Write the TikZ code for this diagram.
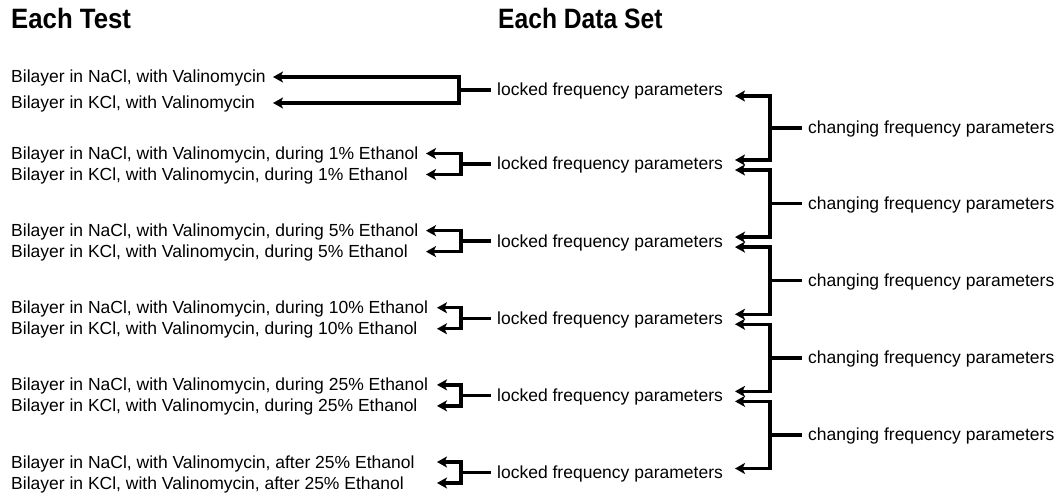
\documentclass[tikz,border=0pt]{standalone}
\usepackage{fontspec}
\setmainfont{Liberation Sans}
\usetikzlibrary{arrows.meta}
\begin{document}
\begin{tikzpicture}[x=1pt,y=-1pt,
  txt/.style={anchor=base west, inner sep=0pt, font=\fontsize{17.5}{21}\selectfont},
  ttl/.style={anchor=base west, inner sep=0pt, font=\fontsize{28}{30}\selectfont\bfseries},
  conn/.style={line width=3.4pt, line join=miter},
  arr/.style={conn, -{Stealth[length=10pt,width=11pt,inset=2.5pt]}},
]
\useasboundingbox (0,0) rectangle (1063,497);

% titles
\node[ttl] (tTest) at (11,29) {\scalebox{0.92}[1]{Each Test}};
\node[ttl] (tData) at (498,29) {\scalebox{0.88}[1]{Each Data Set}};

% pair 1
\node[txt] (a1) at (11,83) {Bilayer in NaCl, with Valinomycin};
\node[txt] (b1) at (11,109) {Bilayer in KCl, with Valinomycin};
\node[txt] (lk1) at (497,96) {locked frequency parameters};
\coordinate (ta1) at (273,77);
\coordinate (tb1) at (273,103);
\coordinate (br1) at (459,90);
\draw[arr] (br1) |- (ta1);
\draw[arr] (br1) |- (tb1);
\draw[conn] (br1) -- ([xshift=-6pt]lk1.west |- br1);

% pairs 2..6
\foreach \k/\suf/\tip in {2/{, during 1\% Ethanol}/426, 3/{, during 5\% Ethanol}/426, 4/{, during 10\% Ethanol}/437, 5/{, during 25\% Ethanol}/437, 6/{, after 25\% Ethanol}/437} {
  \pgfmathsetmacro{\bA}{159.5+77.125*(\k-2)}
  \node[txt] (a\k) at (11,\bA) {Bilayer in NaCl, with Valinomycin\suf};
  \node[txt] (b\k) at (11,\bA+21) {Bilayer in KCl, with Valinomycin\suf};
  \node[txt] (lk\k) at (497,\bA+10.5) {locked frequency parameters};
  \coordinate (ta\k) at (\tip,\bA-6);
  \coordinate (tb\k) at (\tip,\bA+15);
  \coordinate (br\k) at (461,\bA+4.5);
  \draw[arr] (br\k) |- (ta\k);
  \draw[arr] (br\k) |- (tb\k);
  \draw[conn] (br\k) -- ([xshift=-6pt]lk\k.west |- br\k);
}

% changing brackets
\foreach \j/\La/\Lb [evaluate=\j as \jj using int(\j+1)] in {1/90/164, 2/164/241.125, 3/241.125/318.25, 4/318.25/395.375, 5/395.375/472.5} {
  \pgfmathsetmacro{\m}{(\La+6+\Lb-4)/2}
  \coordinate (rl\j) at (735,\La+6);
  \coordinate (ru\jj) at (735,\Lb-4);
  \coordinate (cb\j) at (770,\m);
  \node[txt] (ch\j) at (808,\m+6) {changing frequency parameters};
  \draw[arr] (cb\j) |- (rl\j);
  \draw[arr] (cb\j) |- (ru\jj);
  \draw[conn] (cb\j) -- ([xshift=-6pt]ch\j.west |- cb\j);
}
\end{tikzpicture}
\end{document}
